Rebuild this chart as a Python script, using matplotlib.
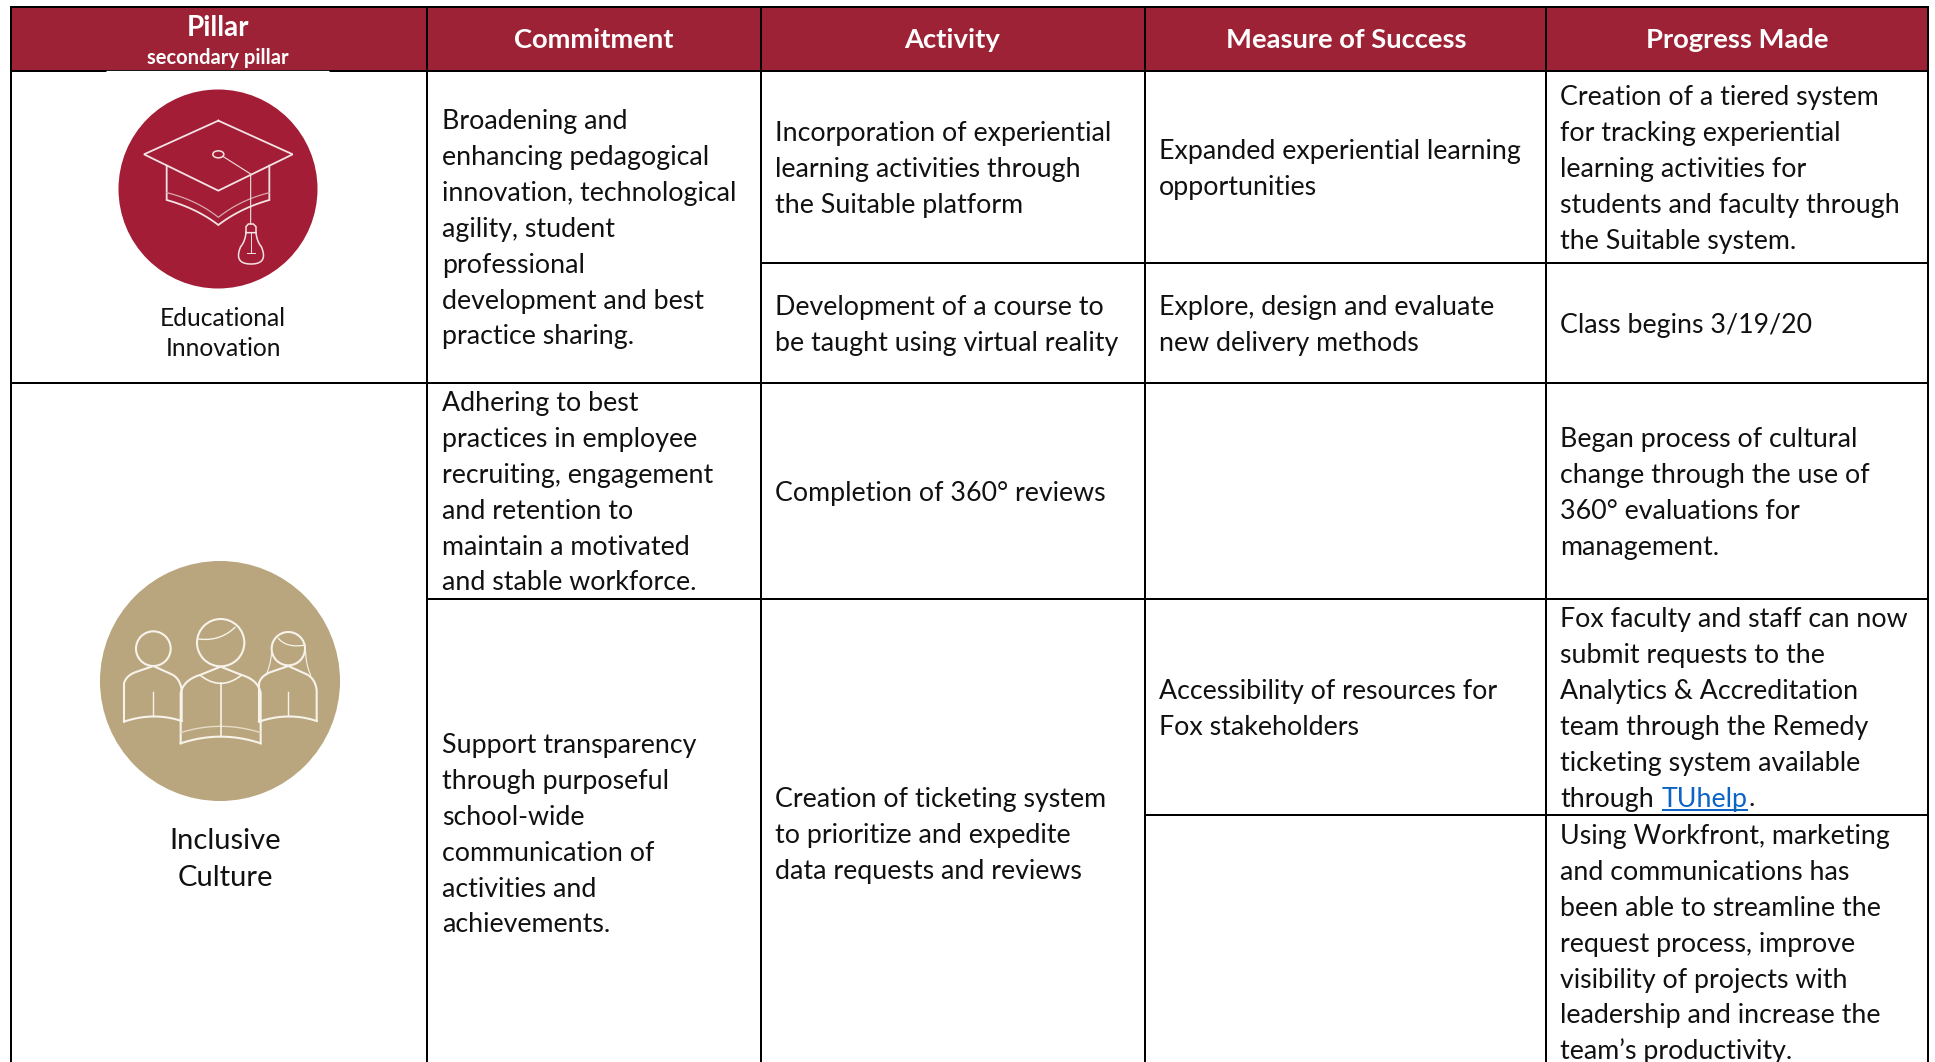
import numpy as np
import matplotlib.pyplot as plt
from matplotlib.patches import Circle, Ellipse, Rectangle

W, H = 1935, 1062
RED = "#9D2235"
CAP_RED = "#A31D36"
TAN = "#B9A67E"
LINK = "#0B63C5"
LINE_H = 35.9
BODY_SIZE = 19.3
FONT = "Lato"

headers = ["Commitment", "Activity", "Measure of Success", "Progress Made"]
header_x = [594, 952, 1346, 1737]
col_x = [11, 427, 761, 1145, 1546, 1928]

pillar_labels = [(["Educational", "Innovation"], 223, 318, 31),
                 (["Inclusive", "Culture"], 225, 841, 37)]

# (left x, centre y of first line, lines)
cells = [
    (442, 121, ["Broadening and", "enhancing pedagogical", "innovation, technological", "agility, student",
                "professional", "development and best", "practice sharing."]),
    (775, 133, ["Incorporation of experiential", "learning activities through", "the Suitable platform"]),
    (1159, 151, ["Expanded experiential learning", "opportunities"]),
    (1560, 97, ["Creation of a tiered system", "for tracking experiential", "learning activities for",
                "students and faculty through", "the Suitable system."]),
    (775, 307, ["Development of a course to", "be taught using virtual reality"]),
    (1159, 307, ["Explore, design and evaluate", "new delivery methods"]),
    (1560, 325, ["Class begins 3/19/20"]),
    (442, 403, ["Adhering to best", "practices in employee", "recruiting, engagement", "and retention to",
                "maintain a motivated", "and stable workforce."]),
    (775, 493, ["Completion of 360° reviews"]),
    (1560, 439, ["Began process of cultural", "change through the use of", "360° evaluations for", "management."]),
    (442, 745, ["Support transparency", "through purposeful", "school-wide", "communication of",
                "activities and", "achievements."]),
    (775, 799, ["Creation of ticketing system", "to prioritize and expedite", "data requests and reviews"]),
    (1159, 691, ["Accessibility of resources for", "Fox stakeholders"]),
    (1560, 619, ["Fox faculty and staff can now", "submit requests to the", "Analytics & Accreditation",
                 "team through the Remedy", "ticketing system available"]),
    (1560, 836, ["Using Workfront, marketing", "and communications has", "been able to streamline the",
                 "request process, improve", "visibility of projects with", "leadership and increase the",
                 "team’s productivity."]),
]

fig = plt.figure(figsize=(W / 100, H / 100), dpi=100, facecolor="white")
ax = fig.add_axes([0, 0, 1, 1])
ax.set_xlim(0, W)
ax.set_ylim(H, 0)
ax.axis("off")


def hline(x0, x1, y, color="black", lw=2.0):
    ax.plot([x0, x1], [y, y], color=color, lw=lw * 0.72, solid_capstyle="butt", zorder=4)


def vline(x, y0, y1, color="black", lw=2.0):
    ax.plot([x, x], [y0, y1], color=color, lw=lw * 0.72, solid_capstyle="butt", zorder=4)


def curve(p0, p1, p2, n=30):
    # quadratic bezier, used for the icon outlines
    t = np.linspace(0, 1, n)[:, None]
    return (1 - t) ** 2 * np.array(p0) + 2 * t * (1 - t) * np.array(p1) + t ** 2 * np.array(p2)


def draw_cap_icon():
    ax.add_patch(Circle((218, 189), 99.5, fc=CAP_RED, ec="none", zorder=2))

    def z(pts):
        return np.array(pts, dtype=float) / 3

    def stroke(pts, lw=1.3, color="#F3E3E3"):
        p = z(pts)
        ax.plot(p[:, 0], p[:, 1], color=color, lw=lw, zorder=3, solid_joinstyle="miter")

    stroke([(655, 362), (878, 463), (655, 572), (432, 463), (655, 362)])
    left_low = curve((500, 600), (590, 625), (655, 675))
    right_low = curve((655, 675), (720, 625), (808, 600))
    stroke(np.vstack([[(500, 497)], left_low, right_low, [(808, 497)]]))
    stroke(np.vstack([curve((500, 578), (590, 600), (655, 652)), curve((655, 652), (720, 600), (808, 578))]),
           lw=0.9, color="#D9A8B0")
    ax.add_patch(Ellipse((655 / 3, 463 / 3), 11, 7, fc="none", ec="#F3E3E3", lw=1.1, zorder=3))
    stroke([(670, 470), (752, 522), (752, 672)], lw=0.8)
    # bulb
    stroke([(738, 698), (738, 680), (745, 672), (760, 672), (768, 680), (768, 698), (738, 698)], lw=1.1)
    bulb_l = curve((738, 698), (735, 725), (722, 740))
    bulb_bl = curve((722, 740), (700, 792), (753, 792))
    bulb_br = curve((753, 792), (806, 792), (784, 740))
    bulb_r = curve((784, 740), (771, 725), (768, 698))
    stroke(np.vstack([bulb_l, bulb_bl, bulb_br, bulb_r]), lw=1.1)
    stroke([(753, 698), (753, 760)], lw=0.7)
    stroke([(740, 760), (766, 760)], lw=0.7)


def draw_people_icon():
    ax.add_patch(Circle((220, 681), 120, fc=TAN, ec="none", zorder=2))

    def z(pts):
        return np.array(pts, dtype=float) / 3 + [60, 540]

    def stroke(pts, lw=1.5, color="#F7F3EA"):
        p = z(pts)
        ax.plot(p[:, 0], p[:, 1], color=color, lw=lw, zorder=3)

    # heads
    for cx, cy, r in [(280, 326, 52), (482, 308, 71), (685, 326, 50)]:
        ax.add_patch(Circle((cx / 3 + 60, cy / 3 + 540), r / 3, fc="none", ec="#F7F3EA", lw=1.5, zorder=3))
    stroke(curve((416, 297), (480, 305), (525, 262)), lw=1.0)
    stroke(curve((655, 295), (680, 325), (735, 315)), lw=0.9)

    # left and right bodies
    for dx in (0, 405):
        body = np.vstack([[(192 + dx, 545), (192 + dx, 430)], curve((192 + dx, 430), (198 + dx, 408), (225 + dx, 397)),
                          [(280 + dx, 378), (335 + dx, 403)], curve((335 + dx, 403), (360 + dx, 415), (365 + dx, 450)),
                          [(365 + dx, 543)]])
        stroke(body)
        stroke(curve((192 + dx, 545), (280 + dx, 515), (365 + dx, 543)))
        stroke([(280 + dx, 455), (280 + dx, 525)], lw=1.0)
    # hair on the right figure
    stroke(curve((635, 335), (632, 375), (618, 405)), lw=0.8)
    stroke(curve((737, 335), (738, 375), (752, 405)), lw=0.8)

    # middle body
    body = np.vstack([[(362, 610), (362, 460)], curve((362, 460), (370, 420), (420, 405)),
                      [(482, 380), (545, 405)], curve((545, 405), (595, 420), (602, 460)),
                      [(602, 610)]])
    stroke(body)
    stroke(curve((362, 610), (482, 570), (602, 610)))
    stroke(curve((362, 578), (482, 540), (602, 578)), lw=1.0, color="#E6DCC5")
    stroke([(482, 430), (482, 588)], lw=1.2)
    stroke(curve((420, 405), (482, 455), (545, 405)), lw=1.2)


# header band
ax.add_patch(Rectangle((col_x[0], 7), col_x[-1] - col_x[0], 64, fc=RED, ec="none", zorder=1))
ax.text(218, 28, "Pillar", color="white", fontsize=20, fontweight="bold", family=FONT,
        ha="center", va="center", zorder=5)
ax.text(218, 58, "secondary pillar", color="white", fontsize=14.5, fontweight="bold", family=FONT,
        ha="center", va="center", zorder=5)
for x, label in zip(header_x, headers):
    ax.text(x, 40, label, color="white", fontsize=19.7, fontweight="bold", family=FONT,
            ha="center", va="center", zorder=5)

# grid
hline(col_x[0], col_x[-1], 7)
hline(col_x[0], col_x[-1], 71)
hline(106, 329, 71, color="white", lw=1.2)
hline(col_x[0], col_x[-1], 383)
hline(col_x[2], col_x[-1], 263)
hline(col_x[1], col_x[-1], 599)
hline(col_x[3], col_x[-1], 815)
for x in col_x:
    vline(x, 6, H)

draw_cap_icon()
draw_people_icon()

for lines, x, y, step in pillar_labels:
    size = 17.7 if step == 31 else 21
    for i, line in enumerate(lines):
        ax.text(x, y + i * step, line, color="#111111", fontsize=size, family=FONT, ha="center", va="center", zorder=5)

for x, y, lines in cells:
    for i, line in enumerate(lines):
        ax.text(x, y + 8 + i * LINE_H, line, color="#111111", fontsize=BODY_SIZE, family=FONT,
                ha="left", va="baseline", zorder=5)

# last line of the Fox cell holds the link, measured so the pieces sit side by side
link_y = 619 + 8 + 5 * LINE_H
ax.text(1560, link_y, "through", color="#111111", fontsize=BODY_SIZE, family=FONT, ha="left", va="baseline", zorder=5)
renderer = fig.canvas.get_renderer()
x1 = 1662
t2 = ax.text(x1, link_y, "TUhelp", color=LINK, fontsize=BODY_SIZE, family=FONT, ha="left", va="baseline", zorder=5)
x2 = x1 + t2.get_window_extent(renderer).width
ax.plot([x1, x2], [link_y + 3, link_y + 3], color=LINK, lw=1.4, solid_capstyle="butt", zorder=5)
ax.text(x2, link_y, ".", color="#111111", fontsize=BODY_SIZE, family=FONT, ha="left", va="baseline", zorder=5)

fig.savefig("out.png", dpi=100, facecolor="white")
